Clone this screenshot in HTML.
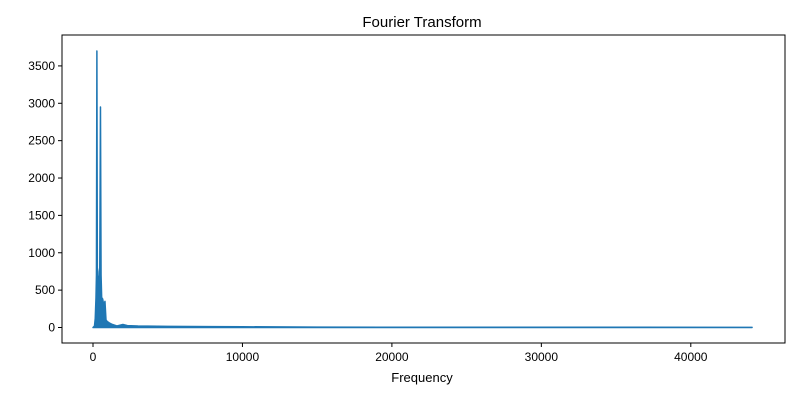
<!DOCTYPE html>
<html><head><meta charset="utf-8"><style>
body{margin:0;background:#fff;}
text{font-family:"Liberation Sans","DejaVu Sans",sans-serif;fill:#000;}
</style></head><body>
<svg id="chart" width="800" height="400" xmlns="http://www.w3.org/2000/svg">
<text x="422" y="27" font-size="15" text-anchor="middle">Fourier Transform</text>
<text x="422" y="382" font-size="13" text-anchor="middle">Frequency</text>
<g id="plot"></g>
<rect x="62" y="35" width="723" height="308" fill="none" stroke="#000" stroke-width="1"/>
</svg>
<script>
const freqs=[0,100,150,200,230,260,290,330,380,420,450,500,540,580,650,720,800,870,950,1100,1300,1600,2000,2300,3000,5000,8000,10000,15000,20000,30000,44100];
const amps=[0,20,120,400,700,3700,800,750,500,650,700,2950,700,400,380,300,350,100,80,60,40,20,40,25,20,15,12,10,5,4,3,2];
const xTicks=[0,10000,20000,30000,40000];
const yTicks=[0,500,1000,1500,2000,2500,3000,3500];
const X=v=>93+v*0.014945;
const Y=v=>327.5-v*0.07474;
const NS="http://www.w3.org/2000/svg";
const g=document.getElementById('plot');
function mk(t,a){const e=document.createElementNS(NS,t);for(const k in a)e.setAttribute(k,a[k]);g.appendChild(e);return e;}
xTicks.forEach(v=>{
 const l=mk('line',{x1:X(v),x2:X(v),y1:343,y2:347,stroke:'#000'});
 
 
 const t=mk('text',{x:X(v),y:361,'font-size':12,'text-anchor':'middle'});t.textContent=v;
 
 
});
yTicks.forEach(v=>{
 const l=mk('line',{x1:58,x2:62,y1:Y(v),y2:Y(v),stroke:'#000'});
 
 
 const t=mk('text',{x:55,y:Y(v)+4,'font-size':12,'text-anchor':'end'});t.textContent=v;
 
 
});
let d='M'+X(freqs[0])+','+Y(0);
freqs.forEach((f,i)=>{d+=' L'+X(f).toFixed(2)+','+Y(amps[i]).toFixed(2);});
d+=' L'+X(freqs[freqs.length-1])+','+Y(0)+' Z';
const area=mk('path',{d:d,fill:'#1f77b4',stroke:'#1f77b4','stroke-width':1.5,'stroke-linejoin':'round'});


</script>
</body></html>
